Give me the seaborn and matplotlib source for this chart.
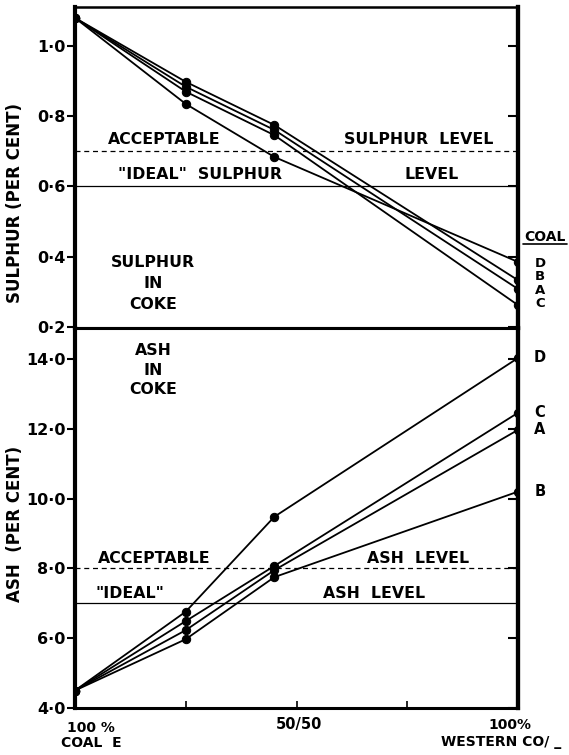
import pandas as pd
import matplotlib
matplotlib.use("Agg")
import matplotlib.pyplot as plt
import seaborn as sns

# % western coal in the blend with coal E
blend_pct = [0, 25, 45, 100]
coals = ["A", "B", "C", "D"]

sulphur_a = [1.08, 0.884, 0.761, 0.308]
sulphur_b = [1.08, 0.898, 0.775, 0.333]
sulphur_c = [1.08, 0.870, 0.746, 0.262]
sulphur_d = [1.08, 0.835, 0.684, 0.385]

ash_a = [4.5, 6.23, 7.95, 11.97]
ash_b = [4.5, 5.97, 7.75, 10.20]
ash_c = [4.5, 6.49, 8.07, 12.46]
ash_d = [4.5, 6.76, 9.48, 14.03]

sulphur_acceptable = 0.7
sulphur_ideal = 0.6
ash_acceptable = 8.0
ash_ideal = 7.0

sulphur_ticks = [0.2, 0.4, 0.6, 0.8, 1.0]
ash_ticks = [4.0, 6.0, 8.0, 10.0, 12.0, 14.0]

sulphur_all = [sulphur_a, sulphur_b, sulphur_c, sulphur_d]
ash_all = [ash_a, ash_b, ash_c, ash_d]

rows = []
for coal, s, a in zip(coals, sulphur_all, ash_all):
    for x, sv, av in zip(blend_pct, s, a):
        rows.append({"coal": coal, "western": x, "sulphur": sv, "ash": av})
df = pd.DataFrame(rows)

sns.set_style("ticks")
plt.rcParams["font.family"] = ["DejaVu Sans"]
plt.rcParams["font.weight"] = "bold"
plt.rcParams["axes.labelweight"] = "bold"
for k in ["text.color", "axes.labelcolor", "xtick.color", "ytick.color",
          "axes.edgecolor"]:
    plt.rcParams[k] = "black"

fig = plt.figure(figsize=(5.69, 7.55), dpi=100)
ax1 = fig.add_axes([0.1318, 0.5656, 0.7786, 0.4251])
ax2 = fig.add_axes([0.1318, 0.0623, 0.7786, 0.5033])

black = {c: "black" for c in coals}
for ax, col in [(ax1, "sulphur"), (ax2, "ash")]:
    sns.lineplot(data=df, x="western", y=col, hue="coal", palette=black,
                 estimator=None, marker="o", markersize=6, linewidth=1.3,
                 markeredgecolor="black", legend=False, ax=ax, zorder=3)
    ax.set_xlim(0, 100)
    ax.set_xlabel("")

ax1.set_ylim(0.197, 1.111)
ax2.set_ylim(4.0, 14.89)

def dot_fmt(vals):
    return [f"{v:.1f}".replace(".", "\u00b7") for v in vals]

ax1.set_yticks(sulphur_ticks)
ax1.set_yticklabels(dot_fmt(sulphur_ticks))
ax2.set_yticks(ash_ticks)
ax2.set_yticklabels(dot_fmt(ash_ticks))

for ax, ticks in [(ax1, sulphur_ticks), (ax2, ash_ticks)]:
    ax.tick_params(axis="y", direction="out", length=6, width=1.5, pad=1,
                   labelsize=11.5)
    sec = ax.secondary_yaxis("right")
    sec.set_yticks(ticks)
    sec.tick_params(direction="in", length=7, width=1.5, labelright=False)
    sec.spines["right"].set_linewidth(3)
    ax.spines["left"].set_linewidth(3)
    ax.spines["right"].set_linewidth(3)

ax1.spines["top"].set_linewidth(1.8)
ax1.spines["bottom"].set_linewidth(2.2)
ax2.spines["top"].set_linewidth(2.2)
ax2.spines["bottom"].set_linewidth(2.2)
ax1.tick_params(axis="x", bottom=False, labelbottom=False)
ax2.set_xticks([25, 50, 75])
ax2.tick_params(axis="x", direction="in", length=5, width=1.2, labelbottom=False)

# limit lines
ax1.axhline(sulphur_acceptable, color="black", lw=0.9, ls=(0, (4, 3)), zorder=2)
ax1.axhline(sulphur_ideal, color="black", lw=0.9, zorder=2)
ax2.axhline(ash_acceptable, color="black", lw=0.9, ls=(0, (4, 3)), zorder=2)
ax2.axhline(ash_ideal, color="black", lw=0.9, zorder=2)

fs = 11.3
ax1.text(20.1, 0.713, "ACCEPTABLE", ha="center", va="bottom", fontsize=fs)
ax1.text(77.6, 0.713, "SULPHUR  LEVEL", ha="center", va="bottom", fontsize=fs)
ax1.text(28.2, 0.613, '"IDEAL"  SULPHUR', ha="center", va="bottom", fontsize=fs)
ax1.text(80.6, 0.613, "LEVEL", ha="center", va="bottom", fontsize=fs)
ax1.text(17.6, 0.325, "SULPHUR\nIN\nCOKE", ha="center", va="center",
         fontsize=fs, linespacing=1.5)

ax2.text(17.8, 8.06, "ACCEPTABLE", ha="center", va="bottom", fontsize=fs)
ax2.text(77.4, 8.06, "ASH  LEVEL", ha="center", va="bottom", fontsize=fs)
ax2.text(12.4, 7.06, '"IDEAL"', ha="center", va="bottom", fontsize=fs)
ax2.text(67.5, 7.06, "ASH  LEVEL", ha="center", va="bottom", fontsize=fs)
ax2.text(17.6, 13.68, "ASH\nIN\nCOKE", ha="center", va="center",
         fontsize=fs, linespacing=1.4)

# coal letters beside the 100 % western points
ends_s = sorted(zip([s[-1] for s in sulphur_all], coals), reverse=True)
mid_s = (ends_s[0][0] + ends_s[-1][0]) / 2
ax1.annotate("\n".join(c for _, c in ends_s), xy=(100, mid_s), xytext=(22, 0),
             textcoords="offset pixels", ha="center", va="center",
             fontsize=9.5, linespacing=1.02, annotation_clip=False)
for coal, a in zip(coals, ash_all):
    ax2.annotate(coal, xy=(100, a[-1]), xytext=(22, 0), textcoords="offset pixels",
                 ha="center", va="center", fontsize=10.5, annotation_clip=False)

ax1.annotate("COAL", xy=(100, 0.456), xytext=(27, 0), textcoords="offset pixels",
             ha="center", va="center", fontsize=10, annotation_clip=False)
ax1.plot([0.919, 0.997], [0.677, 0.677], color="black", lw=1.2,
         transform=fig.transFigure, clip_on=False)

ax1.set_ylabel("SULPHUR (PER CENT)", fontsize=12)
ax1.yaxis.set_label_coords(-0.115, 0.39)
ax2.set_ylabel("ASH  (PER CENT)", fontsize=12)
ax2.yaxis.set_label_coords(-0.115, 0.484)

xt = ax2.get_xaxis_transform()
ax2.text(3.6, -0.035, "100 %\nCOAL  E", transform=xt, ha="center", va="top",
         fontsize=10, linespacing=1.05)
ax2.text(50.5, -0.024, "50/50", transform=xt, ha="center", va="top", fontsize=10.5)
ax2.text(98.2, -0.026, "100%", transform=xt, ha="center", va="top", fontsize=10)
ax2.text(96.2, -0.072, "WESTERN CO/ _", transform=xt, ha="center", va="top",
         fontsize=10)

fig.savefig("out.png", dpi=100)
